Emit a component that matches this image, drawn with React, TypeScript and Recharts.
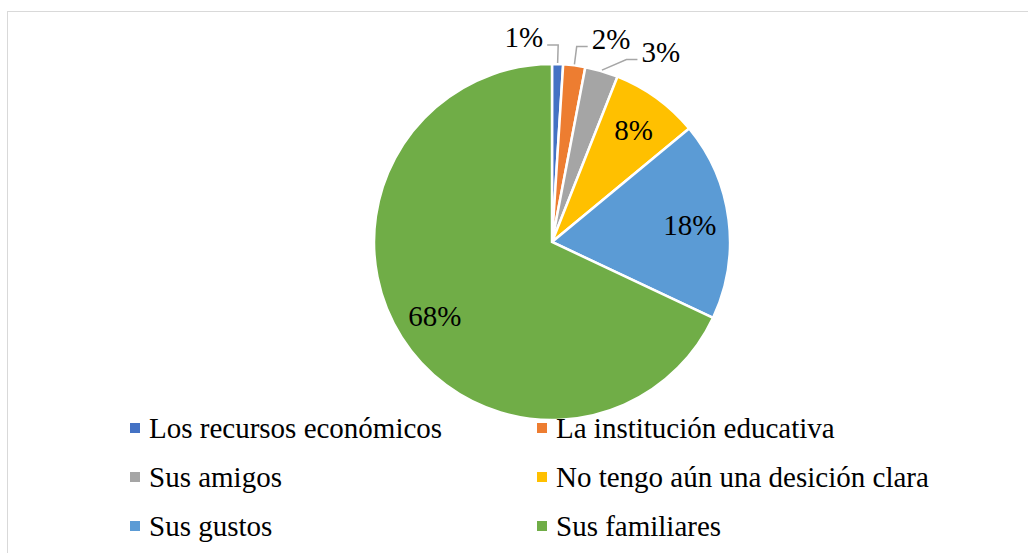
import { PieChart, Pie, Cell, Legend } from "recharts"

const categories = [
  "Los recursos económicos",
  "La institución educativa",
  "Sus amigos",
  "No tengo aún una desición clara",
  "Sus gustos",
  "Sus familiares",
]
const percents = [1, 2, 3, 8, 18, 68]
const colors = ["#4472C4", "#ED7D31", "#A5A5A5", "#FFC000", "#5B9BD5", "#70AD47"]

// small slices get an outside label with a leader line: side (-1 left / 1 right), extra angle
const outsideSide = [-1, 1, 1]
const outsideNudge = [0, 0, 6]

const data = categories.map((name, i) => ({ name, value: percents[i] }))

const FONT = "'Times New Roman', 'Liberation Serif', 'DejaVu Serif', serif"
const RAD = Math.PI / 180

function renderLabel(p: any) {
  const { cx, cy, midAngle, outerRadius, index, value } = p
  if (value >= 5) {
    const r = outerRadius * 0.78
    const x = cx + r * Math.cos(-midAngle * RAD)
    const y = cy + r * Math.sin(-midAngle * RAD)
    return (
      <text x={x} y={y} textAnchor="middle" dominantBaseline="central" style={{ fontFamily: FONT }} fontSize={29} fill="#000">
        {value}%
      </text>
    )
  }
  const ex = cx + (outerRadius + 1) * Math.cos(-midAngle * RAD)
  const ey = cy + (outerRadius + 1) * Math.sin(-midAngle * RAD)
  const a = midAngle - outsideNudge[index]
  const kx = cx + (outerRadius + 19) * Math.cos(-a * RAD)
  const ky = cy + (outerRadius + 19) * Math.sin(-a * RAD)
  const side = outsideSide[index]
  const hx = kx + side * 11
  return (
    <g>
      <polyline points={`${ex},${ey} ${kx},${ky} ${hx},${ky}`} fill="none" stroke="#A6A6A6" strokeWidth={1.5} />
      <text
        x={hx + side * 4}
        y={ky + 2}
        textAnchor={side < 0 ? "end" : "start"}
        style={{ fontFamily: FONT }}
        fontSize={29}
        fill="#000"
      >
        {value}%
      </text>
    </g>
  )
}

const colX = [130, 537]
const rowTop = 423

function renderLegend(props: any) {
  const payload = [...(props.payload || [])].sort(
    (a: any, b: any) => categories.indexOf(a.value) - categories.indexOf(b.value)
  )
  return (
    <div style={{ position: "relative", width: 1028, height: 553 }}>
      {payload.map((entry: any, i: number) => {
        const col = i % 2
        const row = Math.floor(i / 2)
        return (
          <div
            key={i}
            style={{
              position: "absolute",
              left: colX[col],
              top: rowTop + row * 49 - 14,
              height: 38,
              display: "flex",
              alignItems: "center",
              fontFamily: FONT,
              fontSize: 29,
              color: "#000",
              whiteSpace: "nowrap",
            }}
          >
            <span style={{ width: 10, height: 10, background: entry.color, display: "inline-block", marginRight: 9 }} />
            <span>{entry.value}</span>
          </div>
        )
      })}
    </div>
  )
}

export default function App() {
  return (
    <div style={{ position: "fixed", left: 0, top: 0, width: 1028, height: 553, overflow: "hidden", background: "#fff", fontFamily: FONT }}>
      <div
        style={{
          position: "absolute",
          left: 7,
          top: 11,
          width: 1040,
          height: 570,
          border: "1px solid #D9D9D9",
        }}
      />
      <div style={{ position: "absolute", left: 0, top: 0 }}>
        <PieChart width={1028} height={553} margin={{ top: 0, right: 0, bottom: 0, left: 0 }}>
          <Pie
            data={data}
            dataKey="value"
            nameKey="name"
            cx={552}
            cy={242}
            outerRadius={178}
            startAngle={90}
            endAngle={-270}
            stroke="#fff"
            strokeWidth={2.5}
            label={renderLabel}
            labelLine={false}
            isAnimationActive={false}
          >
            {data.map((_, i) => (
              <Cell key={i} fill={colors[i]} />
            ))}
          </Pie>
          <Legend
            content={renderLegend}
            wrapperStyle={{ position: "absolute", left: 0, top: 0, width: 1028, height: 553, pointerEvents: "none" }}
          />
        </PieChart>
      </div>
    </div>
  )
}
